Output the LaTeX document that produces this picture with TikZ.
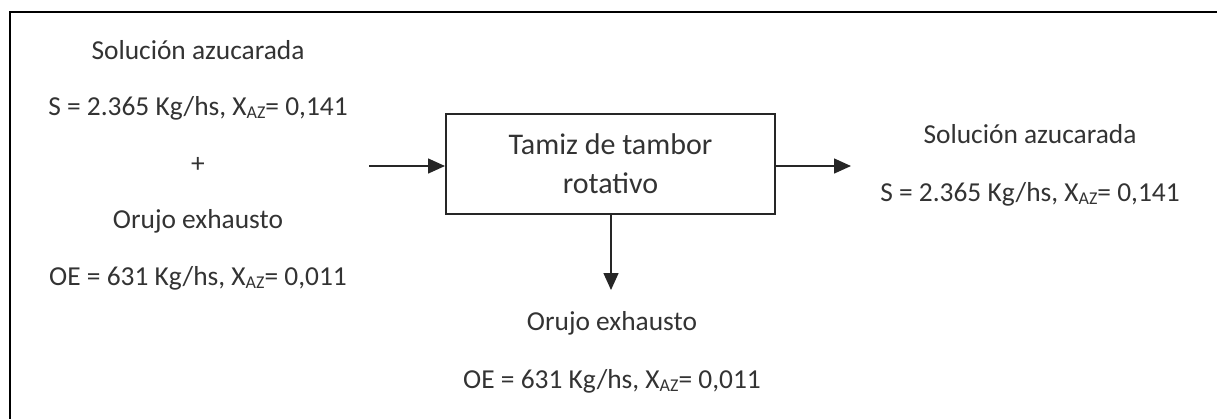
\documentclass[tikz,border=0pt]{standalone}
\usepackage{fontspec}
\setmainfont{Carlito}
\usetikzlibrary{arrows.meta,positioning}

\newcommand{\xaz}{X\raisebox{-0.25ex}{\fontsize{9}{9}\selectfont AZ}}

\begin{document}
\begin{tikzpicture}[x=0.5pt, y=-0.5pt, every node/.style={font=\fontsize{13.7}{16}\selectfont, text=black!80, inner sep=0pt}, lbl/.style={anchor=base}, box/.style={draw=black!85, line width=1pt, minimum width=164.5pt, minimum height=50pt, align=center, font=\fontsize{15}{19.5}\selectfont}, arr/.style={-{Triangle[length=8.5pt,width=7.5pt]}, line width=0.75pt, draw=black!85}]
\useasboundingbox (0,0) rectangle (1217,419);
\draw[line width=1pt] (1217,12) -- (10,12) -- (10,419);
% feed
\node[lbl] (solin) at (198,59.5) {Solución azucarada};
\node[lbl] (sin) at (198,115) {S = 2.365 Kg/hs, \xaz= 0,141};
\node (plus) at (198,165) {+};
\node[lbl] (orin) at (198,228) {Orujo exhausto};
\node[lbl] (oein) at (198,285) {OE = 631 Kg/hs, \xaz= 0,011};
% process unit
\node[box] (tamiz) at (610.5,164) {Tamiz de tambor\\rotativo};
% products
\node[lbl] (solout) at (1030,143) {Solución azucarada};
\node[lbl] (sout) at (1030,201) {S = 2.365 Kg/hs, \xaz= 0,141};
\node[lbl] (orout) at (612,330) {Orujo exhausto};
\node[lbl] (oeout) at (612,388) {OE = 631 Kg/hs, \xaz= 0,011};
\coordinate (feed) at (369,166);
\coordinate (prod) at (851,166);
\coordinate (waste) at (611,290);
\draw[arr] (feed) -- (feed -| tamiz.west);
\draw[arr] (prod -| tamiz.east) -- (prod);
\draw[arr] (tamiz.south -| waste) -- (waste);
\end{tikzpicture}
\end{document}
